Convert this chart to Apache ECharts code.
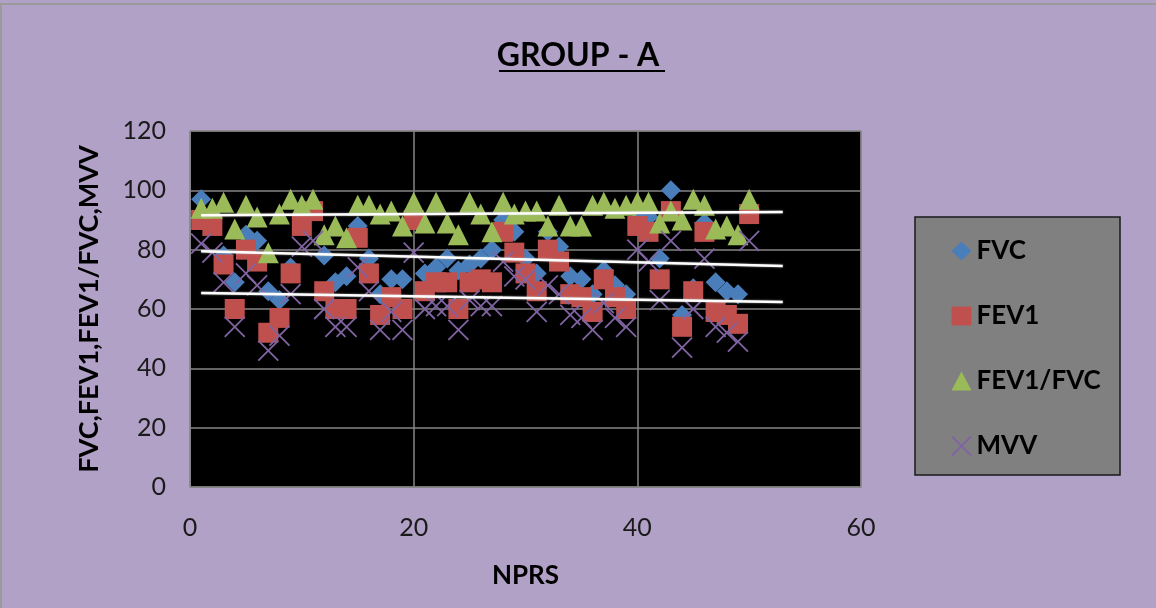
<!DOCTYPE html>
<html>
<head>
<meta charset="utf-8">
<script src="https://cdn.jsdelivr.net/npm/echarts@6/dist/echarts.min.js"></script>
<style>
  html, body { margin: 0; padding: 0; background: #ffffff; }
  #chart { width: 1156px; height: 608px; }
</style>
</head>
<body>
<div id="chart"></div>
<script>
// NPRS score of each subject (x) and the four spirometry measures (y)
const nprs = [1, 2, 3, 4, 5, 6, 7, 8, 9, 10, 11, 12, 13, 14, 15, 16, 17, 18, 19, 20,
              21, 22, 23, 24, 25, 26, 27, 28, 29, 30, 31, 32, 33, 34, 35, 36, 37, 38, 39, 40,
              41, 42, 43, 44, 45, 46, 47, 48, 49, 50];

const fvc = [97, 90, 78, 69, 85, 83, 66, 63, 74, 91, 94, 78, 69, 71, 88, 77, 65, 70, 70, 91,
             72, 74, 77, 73, 75, 77, 80, 90, 86, 77, 72, 86, 81, 71, 70, 65, 73, 68, 65, 90,
             91, 77, 100, 58, 67, 89, 69, 66, 65, 93];

const fev1 = [90, 88, 75, 60, 80, 76, 52, 57, 72, 88, 93, 66, 60, 60, 84, 72, 58, 64, 60, 90,
              66, 69, 69, 60, 69, 70, 69, 86, 79, 72, 66, 80, 76, 65, 64, 59, 70, 64, 60, 88,
              86, 70, 93, 54, 66, 86, 59, 58, 55, 92];

const fev1Fvc = [94, 94, 96, 87, 95, 91, 79, 92, 97, 95, 97, 85, 88, 84, 95, 95, 92, 93, 88, 96,
                 89, 96, 89, 85, 96, 92, 86, 96, 92, 93, 93, 88, 95, 88, 88, 95, 96, 94, 95, 96,
                 96, 89, 93, 90, 97, 95, 87, 88, 85, 97];

const mvv = [82, 79, 69, 54, 72, 68, 46, 51, 65, 81, 83, 60, 54, 54, 74, 66, 53, 59, 53, 79,
             60, 61, 61, 53, 63, 61, 61, 76, 71, 70, 59, 68, 65, 58, 57, 53, 62, 57, 54, 80,
             76, 63, 83, 47, 60, 77, 54, 52, 49, 83];

// Linear trend lines (start and end points, extended past the last subject)
const trendFev1Fvc = [[1, 91.6], [53, 92.7]];
const trendFvc = [[1, 79.5], [53, 74.5]];
const trendMvv = [[1, 65.4], [53, 62.4]];

// Axis ticks
const xTicks = [0, 20, 40, 60];
const yTicks = [0, 20, 40, 60, 80, 100, 120];

const seriesNames = ['FVC', 'FEV1', 'FEV1/FVC', 'MVV'];

const pair = (xs, ys) => xs.map((x, i) => [x, ys[i]]);

const FONT = 'Lato';
const crossPath = 'path://M0,0L10,10M10,0L0,10';

const chart = echarts.init(document.getElementById('chart'), null, { renderer: 'canvas' });

const trendLine = (data) => ({
  type: 'line',
  data: data,
  symbol: 'none',
  silent: true,
  z: 5,
  lineStyle: { color: '#ffffff', width: 2.5, shadowColor: 'rgba(200,200,200,0.8)', shadowBlur: 2 },
  legendHoverLink: false
});

chart.setOption({
  backgroundColor: '#b1a1c7',
  animation: false,
  title: {
    text: 'GROUP - A',
    left: 'center',
    top: 35,
    textStyle: { fontFamily: FONT, fontWeight: 'bold', fontSize: 32, color: '#000000' }
  },
  grid: {
    left: 190, top: 131, width: 671, height: 356,
    show: true, backgroundColor: '#000000', borderColor: '#868686', borderWidth: 1
  },
  legend: {
    data: seriesNames,
    orient: 'vertical',
    left: 946,
    top: 233,
    itemWidth: 20,
    itemHeight: 19,
    itemGap: 39,
    textStyle: { fontFamily: FONT, fontWeight: 'bold', fontSize: 26, color: '#000000', padding: [0, 0, 0, 0] }
  },
  xAxis: {
    type: 'value',
    min: xTicks[0], max: xTicks[xTicks.length - 1], interval: 20,
    name: 'NPRS', nameLocation: 'middle', nameGap: 76,
    nameTextStyle: { fontFamily: FONT, fontWeight: 'bold', fontSize: 26, color: '#000000' },
    axisLine: { show: true, lineStyle: { color: '#868686' } },
    axisTick: { show: false },
    axisLabel: { fontFamily: FONT, fontSize: 25, color: '#1a1a1a', margin: 28 },
    splitLine: { show: true, lineStyle: { color: '#868686', width: 1.5 } }
  },
  yAxis: {
    type: 'value',
    min: yTicks[0], max: yTicks[yTicks.length - 1], interval: 20,
    name: 'FVC,FEV1,FEV1/FVC,MVV', nameLocation: 'middle', nameGap: 87, nameRotate: 90,
    nameTextStyle: { fontFamily: FONT, fontWeight: 'bold', fontSize: 27, color: '#000000' },
    axisLine: { show: true, lineStyle: { color: '#868686' } },
    axisTick: { show: false },
    axisLabel: { fontFamily: FONT, fontSize: 25, color: '#1a1a1a', margin: 24 },
    splitLine: { show: true, lineStyle: { color: '#868686', width: 1.5 } }
  },
  series: [
    {
      name: 'FVC', type: 'scatter', data: pair(nprs, fvc),
      symbol: 'diamond', symbolSize: 20,
      itemStyle: { color: '#4a7ebb', opacity: 1 }
    },
    {
      name: 'FEV1', type: 'scatter', data: pair(nprs, fev1),
      symbol: 'rect', symbolSize: 20,
      itemStyle: { color: '#c0504d', opacity: 1 }
    },
    {
      name: 'FEV1/FVC', type: 'scatter', data: pair(nprs, fev1Fvc),
      symbol: 'triangle', symbolSize: [21, 21],
      itemStyle: { color: '#9bbb59', opacity: 1 }
    },
    {
      name: 'MVV', type: 'scatter', data: pair(nprs, mvv),
      symbol: crossPath, symbolSize: 20,
      itemStyle: { color: 'rgba(0,0,0,0)', borderColor: '#8064a2', borderWidth: 1.8, opacity: 1 }
    },
    trendLine(trendFev1Fvc),
    trendLine(trendFvc),
    trendLine(trendMvv)
  ],
  graphic: [
    // underline beneath the title
    {
      type: 'line', z: 10,
      shape: { x1: 499, y1: 71, x2: 665, y2: 71 },
      style: { stroke: '#000000', lineWidth: 2 }
    },
    // legend frame
    {
      type: 'rect', z: -1,
      shape: { x: 915, y: 217, width: 205, height: 258 },
      style: { fill: '#808080', stroke: '#1a1a1a', lineWidth: 1.5 }
    },
    // outer chart border
    {
      type: 'rect', z: -2, silent: true,
      shape: { x: 1, y: 4, width: 1160, height: 610 },
      style: { fill: 'none', stroke: '#9a9a9a', lineWidth: 2 }
    }
  ]
});
</script>
</body>
</html>
